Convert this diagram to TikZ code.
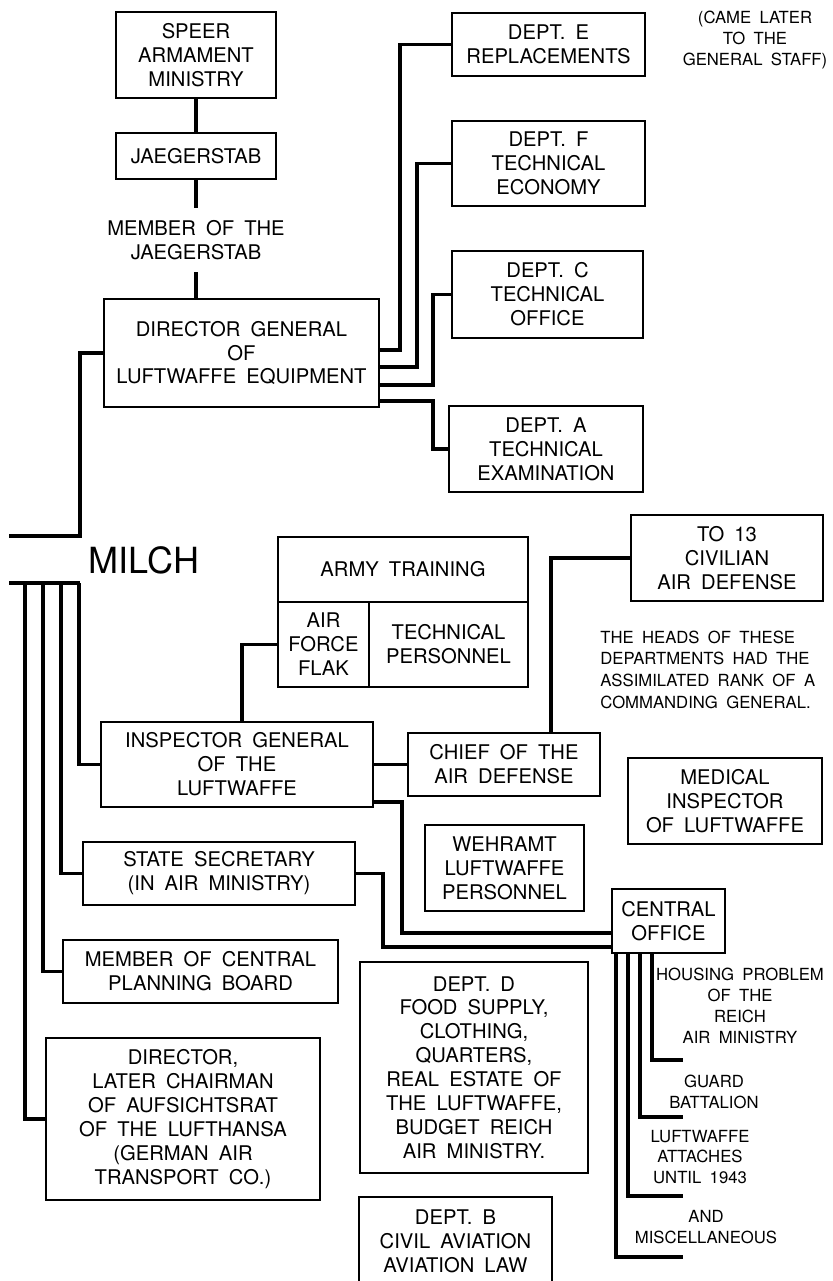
\documentclass[tikz,border=0pt]{standalone}
\usepackage{fontspec}
\setmainfont{TeX Gyre Heros}[WordSpace=1.8]
\tikzstyle{unit}=[draw, line width=1.35pt, align=center, inner sep=0pt]
\tikzstyle{link}=[line width=2.1pt, line join=miter]
\tikzstyle{remark}=[align=center, inner sep=0pt, font=\fontsize{9.5}{11.9}\selectfont]
\newcommand{\boxfont}{\fontsize{11.5}{13.6}\selectfont}

\begin{document}
\begin{tikzpicture}[x=0.02cm, y=-0.02cm, font=\boxfont]
\useasboundingbox (0,0) rectangle (832,1281);

% equipment side
\node[unit, minimum width=3.2cm, minimum height=1.72cm] at (196,55) (speer) {SPEER\\ARMAMENT\\MINISTRY};
\node[unit, minimum width=3.2cm, minimum height=0.92cm] at (196,156) (jaeg) {JAEGERSTAB};
\node[align=center, inner ysep=7pt] at (196,240) (memb) {MEMBER OF THE\\JAEGERSTAB};
\node[unit, minimum width=5.5cm, minimum height=2.16cm] at (241.5,353) (dirg) {DIRECTOR GENERAL\\OF\\LUFTWAFFE EQUIPMENT};
\node[unit, minimum width=3.86cm, minimum height=1.26cm] at (548.5,44.5) (deptE) {DEPT. E\\REPLACEMENTS};
\node[unit, minimum width=3.86cm, minimum height=1.7cm] at (548.5,163.5) (deptF) {DEPT. F\\TECHNICAL\\ECONOMY};
\node[unit, minimum width=3.82cm, minimum height=1.74cm] at (547.5,294.5) (deptC) {DEPT. C\\TECHNICAL\\OFFICE};
\node[unit, minimum width=3.88cm, minimum height=1.72cm] at (546,449) (deptA) {DEPT. A\\TECHNICAL\\EXAMINATION};
\node[remark] at (755,40) (later) {(CAME LATER\\TO THE\\GENERAL STAFF)};

\draw[link] (speer.south) -- (jaeg.north);
\draw[link] (jaeg.south) -- (memb.north);
\draw[link] (memb.south) -- (memb.south |- dirg.north);
\draw[link] (deptE.west) -| (400,350) -- (dirg.east |- 0,350);
\draw[link] (deptF.west) -| (417,367) -- (dirg.east |- 0,367);
\draw[link] (deptC.west) -| (433,385) -- (dirg.east |- 0,385);
\draw[link] (deptA.west) -| (433,401) -- (dirg.east |- 0,401);

% milch
\node[font=\fontsize{20.5}{24}\selectfont, inner sep=0pt] at (144,560) (milch) {MILCH};
\coordinate (edgeT) at (9,536);
\coordinate (edgeB) at (9,583);
\draw[link] (dirg.west) -| (80,536) -- (edgeT);
\draw[link] (edgeB) -- (80,583);

% inspector side
\node[unit, minimum width=5.0cm, minimum height=1.3cm] at (403,569.5) (armytr) {ARMY TRAINING};
\node[unit, minimum width=1.82cm, minimum height=1.7cm] at (323.5,644.5) (flak) {AIR\\FORCE\\FLAK};
\node[unit, minimum width=3.18cm, minimum height=1.7cm] at (448.5,644.5) (techp) {TECHNICAL\\PERSONNEL};
\node[unit, minimum width=3.84cm, minimum height=1.72cm] at (727,558) (to13) {TO 13\\CIVILIAN\\AIR DEFENSE};
\node[remark, align=left, anchor=west, font=\fontsize{9.5}{12.3}\selectfont] at (600,669.5) (heads) {THE HEADS OF THESE\\DEPARTMENTS HAD THE\\ASSIMILATED RANK OF A\\COMMANDING GENERAL.};
\node[unit, minimum width=5.44cm, minimum height=1.7cm] at (237,764.5) (insp) {INSPECTOR GENERAL\\OF THE\\LUFTWAFFE};
\node[unit, minimum width=3.84cm, minimum height=1.26cm] at (504,764.5) (chief) {CHIEF OF THE\\AIR DEFENSE};
\node[unit, minimum width=3.88cm, minimum height=1.72cm] at (725,801) (medic) {MEDICAL\\INSPECTOR\\OF LUFTWAFFE};
\node[unit, minimum width=3.18cm, minimum height=1.72cm] at (504.5,868) (wehr) {WEHRAMT\\LUFTWAFFE\\PERSONNEL};

\draw[link] (flak.west) -| (insp.north -| 242,0);
\draw[link] (insp.east) -- (chief.west);
\draw[link] (chief.north -| 551,0) |- (to13.west);

% state secretary side
\node[unit, minimum width=5.44cm, minimum height=1.26cm] at (219,873.5) (state) {STATE SECRETARY\\(IN AIR MINISTRY)};
\node[unit, minimum width=5.5cm, minimum height=1.26cm] at (200.5,971.5) (cpb) {MEMBER OF CENTRAL\\PLANNING BOARD};
\node[unit, minimum width=5.48cm, minimum height=3.24cm] at (183,1119) (dirl) {DIRECTOR,\\LATER CHAIRMAN\\OF AUFSICHTSRAT\\OF THE LUFTHANSA\\(GERMAN AIR\\TRANSPORT CO.)};
\node[unit, minimum width=2.26cm, minimum height=1.28cm] at (668.5,921) (central) {CENTRAL\\OFFICE};
\node[unit, minimum width=4.56cm, minimum height=4.22cm] at (474,1067.5) (deptD) {DEPT. D\\FOOD SUPPLY,\\CLOTHING,\\QUARTERS,\\REAL ESTATE OF\\THE LUFTWAFFE,\\BUDGET REICH\\AIR MINISTRY.};
\node[unit, minimum width=3.86cm, minimum height=1.78cm] at (455.5,1241.5) (deptB) {DEPT. B\\CIVIL AVIATION\\AVIATION LAW};

\foreach \x/\n in {25/dirl, 43/cpb, 61/state, 79/insp}
  \draw[link] (\x,583) |- (\n.west);
\draw[link] (insp.east |- 0,802) -| (402,933) -- (central.west |- 0,933);
\draw[link] (state.east) -| (383,947) -- (central.west |- 0,947);

% central office branches
\node[remark] at (740,1006) (housing) {HOUSING PROBLEM\\OF THE\\REICH\\AIR MINISTRY};
\node[remark] at (714,1091.5) (guard) {GUARD\\BATTALION};
\node[remark] at (700,1157) (attach) {LUFTWAFFE\\ATTACHES\\UNTIL 1943};
\node[remark] at (706,1227.5) (misc) {AND\\MISCELLANEOUS};
\foreach \x/\y in {652/1060, 640/1117, 628/1196, 616/1257}
  \draw[link] (central.south -| \x,0) |- (683,\y);

\end{tikzpicture}
\end{document}
